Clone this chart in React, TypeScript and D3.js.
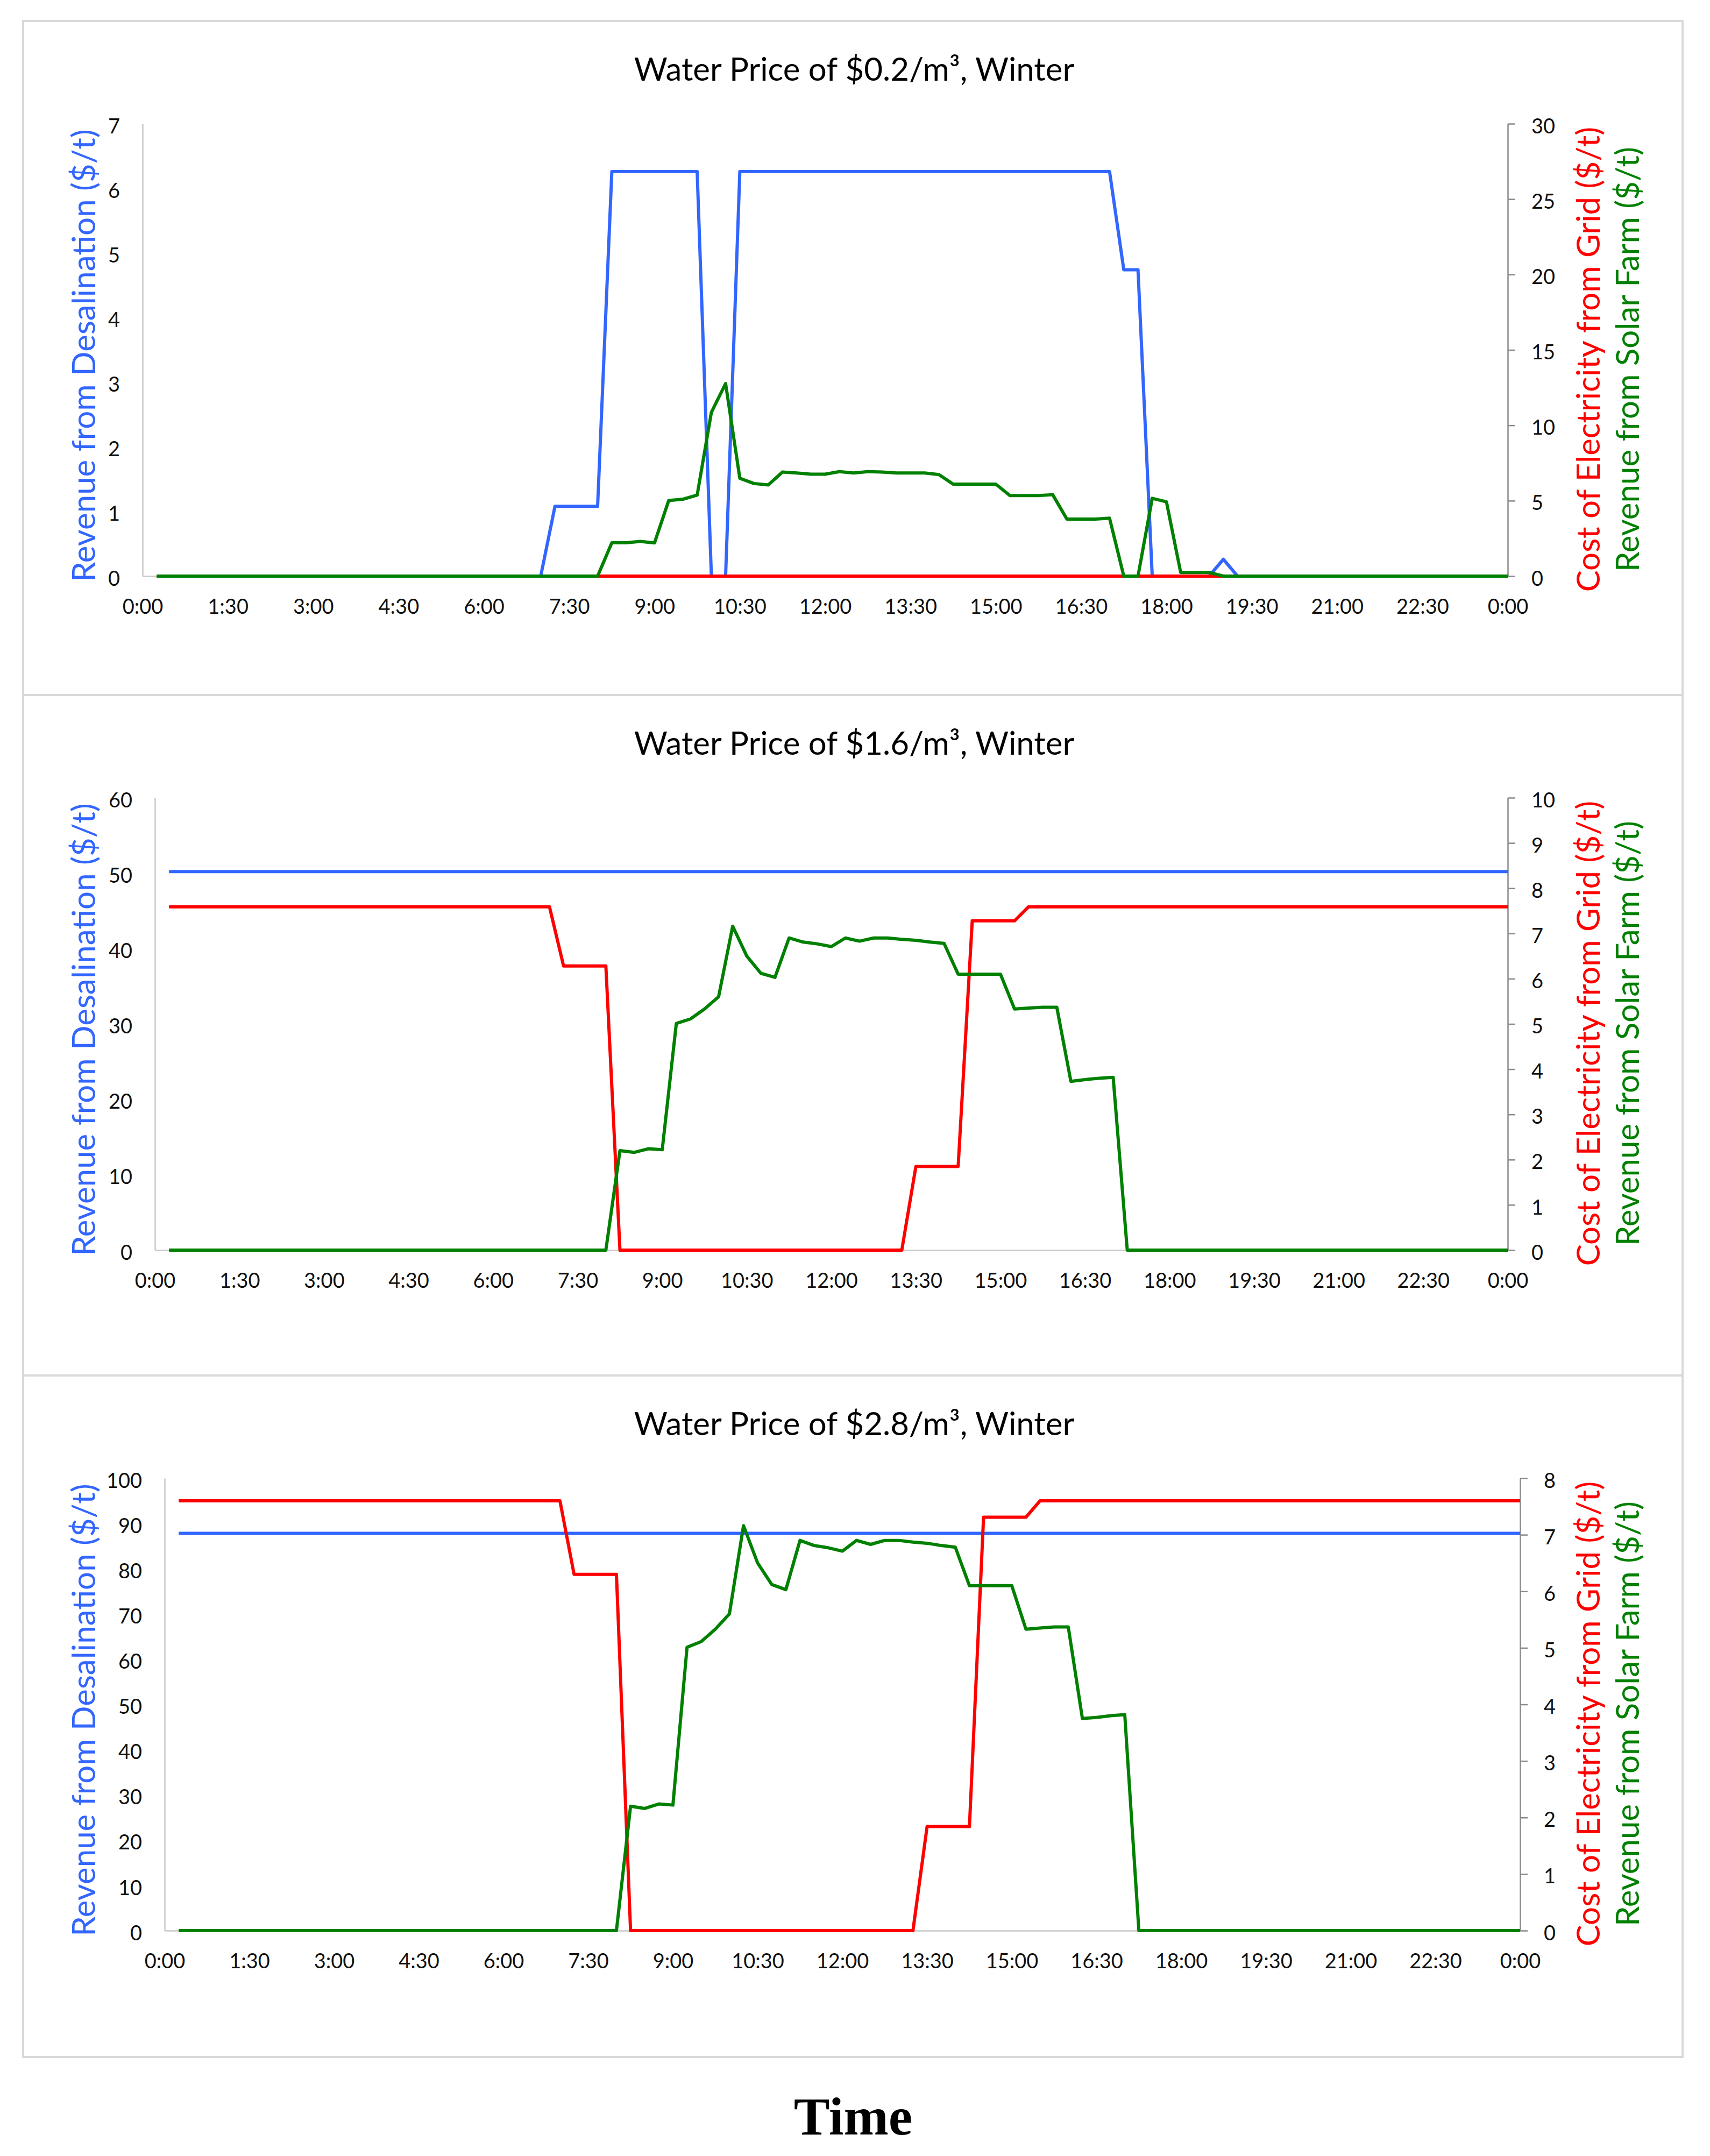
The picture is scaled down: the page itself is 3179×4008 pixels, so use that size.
import React, { useRef, useEffect } from "react";
import * as d3 from "d3";

// x axis labels, every 1:30 from 0:00 to 24:00
const timeLabels = [
  "0:00", "1:30", "3:00", "4:30", "6:00", "7:30", "9:00", "10:30", "12:00",
  "13:30", "15:00", "16:30", "18:00", "19:30", "21:00", "22:30", "0:00",
];

const titles = [
  "Water Price of $0.2/m³, Winter",
  "Water Price of $1.6/m³, Winter",
  "Water Price of $2.8/m³, Winter",
];

// all series: 15 min steps, 0:15 ... 24:00 (96 values, 12 per row = 3 h)
// $0.2/m3
const desal02 = [
  0, 0, 0, 0, 0, 0, 0, 0, 0, 0, 0, 0,
  0, 0, 0, 0, 0, 0, 0, 0, 0, 0, 0, 0,
  0, 0, 0, 0, 1.08, 1.08, 1.08, 1.08, 6.26, 6.26, 6.26, 6.26,
  6.26, 6.26, 6.26, 0, 0, 6.26, 6.26, 6.26, 6.26, 6.26, 6.26, 6.26,
  6.26, 6.26, 6.26, 6.26, 6.26, 6.26, 6.26, 6.26, 6.26, 6.26, 6.26, 6.26,
  6.26, 6.26, 6.26, 6.26, 6.26, 6.26, 6.26, 6.26, 4.74, 4.74, 0, 0,
  0, 0, 0, 0.26, 0, 0, 0, 0, 0, 0, 0, 0,
  0, 0, 0, 0, 0, 0, 0, 0, 0, 0, 0, 0,
];
const grid02 = [
  0, 0, 0, 0, 0, 0, 0, 0, 0, 0, 0, 0,
  0, 0, 0, 0, 0, 0, 0, 0, 0, 0, 0, 0,
  0, 0, 0, 0, 0, 0, 0, 0, 0, 0, 0, 0,
  0, 0, 0, 0, 0, 0, 0, 0, 0, 0, 0, 0,
  0, 0, 0, 0, 0, 0, 0, 0, 0, 0, 0, 0,
  0, 0, 0, 0, 0, 0, 0, 0, 0, 0, 0, 0,
  0, 0, 0, 0, 0, 0, 0, 0, 0, 0, 0, 0,
  0, 0, 0, 0, 0, 0, 0, 0, 0, 0, 0, 0,
];
const solar02 = [
  0, 0, 0, 0, 0, 0, 0, 0, 0, 0, 0, 0,
  0, 0, 0, 0, 0, 0, 0, 0, 0, 0, 0, 0,
  0, 0, 0, 0, 0, 0, 0, 0, 2.21, 2.21, 2.3, 2.2,
  5.01, 5.1, 5.37, 10.86, 12.77, 6.49, 6.14, 6.05, 6.9, 6.84, 6.76, 6.76,
  6.93, 6.84, 6.93, 6.9, 6.84, 6.84, 6.84, 6.73, 6.1, 6.1, 6.1, 6.1,
  5.34, 5.34, 5.34, 5.4, 3.78, 3.78, 3.78, 3.84, 0, 0, 5.16, 4.93,
  0.24, 0.24, 0.24, 0, 0, 0, 0, 0, 0, 0, 0, 0,
  0, 0, 0, 0, 0, 0, 0, 0, 0, 0, 0, 0,
];

// $1.6/m3
const desal16 = [
  50.2, 50.2, 50.2, 50.2, 50.2, 50.2, 50.2, 50.2, 50.2, 50.2, 50.2, 50.2,
  50.2, 50.2, 50.2, 50.2, 50.2, 50.2, 50.2, 50.2, 50.2, 50.2, 50.2, 50.2,
  50.2, 50.2, 50.2, 50.2, 50.2, 50.2, 50.2, 50.2, 50.2, 50.2, 50.2, 50.2,
  50.2, 50.2, 50.2, 50.2, 50.2, 50.2, 50.2, 50.2, 50.2, 50.2, 50.2, 50.2,
  50.2, 50.2, 50.2, 50.2, 50.2, 50.2, 50.2, 50.2, 50.2, 50.2, 50.2, 50.2,
  50.2, 50.2, 50.2, 50.2, 50.2, 50.2, 50.2, 50.2, 50.2, 50.2, 50.2, 50.2,
  50.2, 50.2, 50.2, 50.2, 50.2, 50.2, 50.2, 50.2, 50.2, 50.2, 50.2, 50.2,
  50.2, 50.2, 50.2, 50.2, 50.2, 50.2, 50.2, 50.2, 50.2, 50.2, 50.2, 50.2,
];
const grid16 = [
  7.59, 7.59, 7.59, 7.59, 7.59, 7.59, 7.59, 7.59, 7.59, 7.59, 7.59, 7.59,
  7.59, 7.59, 7.59, 7.59, 7.59, 7.59, 7.59, 7.59, 7.59, 7.59, 7.59, 7.59,
  7.59, 7.59, 7.59, 7.59, 6.28, 6.28, 6.28, 6.28, 0, 0, 0, 0,
  0, 0, 0, 0, 0, 0, 0, 0, 0, 0, 0, 0,
  0, 0, 0, 0, 0, 1.85, 1.85, 1.85, 1.85, 7.28, 7.28, 7.28,
  7.28, 7.59, 7.59, 7.59, 7.59, 7.59, 7.59, 7.59, 7.59, 7.59, 7.59, 7.59,
  7.59, 7.59, 7.59, 7.59, 7.59, 7.59, 7.59, 7.59, 7.59, 7.59, 7.59, 7.59,
  7.59, 7.59, 7.59, 7.59, 7.59, 7.59, 7.59, 7.59, 7.59, 7.59, 7.59, 7.59,
];
const solar16 = [
  0, 0, 0, 0, 0, 0, 0, 0, 0, 0, 0, 0,
  0, 0, 0, 0, 0, 0, 0, 0, 0, 0, 0, 0,
  0, 0, 0, 0, 0, 0, 0, 0, 2.2, 2.16, 2.24, 2.22,
  5.01, 5.11, 5.33, 5.6, 7.16, 6.5, 6.12, 6.03, 6.9, 6.81, 6.77, 6.71,
  6.9, 6.83, 6.9, 6.9, 6.87, 6.85, 6.81, 6.78, 6.1, 6.1, 6.1, 6.1,
  5.33, 5.35, 5.37, 5.37, 3.73, 3.77, 3.8, 3.82, 0, 0, 0, 0,
  0, 0, 0, 0, 0, 0, 0, 0, 0, 0, 0, 0,
  0, 0, 0, 0, 0, 0, 0, 0, 0, 0, 0, 0,
];

// $2.8/m3
const desal28 = [
  87.8, 87.8, 87.8, 87.8, 87.8, 87.8, 87.8, 87.8, 87.8, 87.8, 87.8, 87.8,
  87.8, 87.8, 87.8, 87.8, 87.8, 87.8, 87.8, 87.8, 87.8, 87.8, 87.8, 87.8,
  87.8, 87.8, 87.8, 87.8, 87.8, 87.8, 87.8, 87.8, 87.8, 87.8, 87.8, 87.8,
  87.8, 87.8, 87.8, 87.8, 87.8, 87.8, 87.8, 87.8, 87.8, 87.8, 87.8, 87.8,
  87.8, 87.8, 87.8, 87.8, 87.8, 87.8, 87.8, 87.8, 87.8, 87.8, 87.8, 87.8,
  87.8, 87.8, 87.8, 87.8, 87.8, 87.8, 87.8, 87.8, 87.8, 87.8, 87.8, 87.8,
  87.8, 87.8, 87.8, 87.8, 87.8, 87.8, 87.8, 87.8, 87.8, 87.8, 87.8, 87.8,
  87.8, 87.8, 87.8, 87.8, 87.8, 87.8, 87.8, 87.8, 87.8, 87.8, 87.8, 87.8,
];
const grid28 = [
  7.6, 7.6, 7.6, 7.6, 7.6, 7.6, 7.6, 7.6, 7.6, 7.6, 7.6, 7.6,
  7.6, 7.6, 7.6, 7.6, 7.6, 7.6, 7.6, 7.6, 7.6, 7.6, 7.6, 7.6,
  7.6, 7.6, 7.6, 7.6, 6.3, 6.3, 6.3, 6.3, 0, 0, 0, 0,
  0, 0, 0, 0, 0, 0, 0, 0, 0, 0, 0, 0,
  0, 0, 0, 0, 0, 1.84, 1.84, 1.84, 1.84, 7.31, 7.31, 7.31,
  7.31, 7.6, 7.6, 7.6, 7.6, 7.6, 7.6, 7.6, 7.6, 7.6, 7.6, 7.6,
  7.6, 7.6, 7.6, 7.6, 7.6, 7.6, 7.6, 7.6, 7.6, 7.6, 7.6, 7.6,
  7.6, 7.6, 7.6, 7.6, 7.6, 7.6, 7.6, 7.6, 7.6, 7.6, 7.6, 7.6,
];
const solar28 = [
  0, 0, 0, 0, 0, 0, 0, 0, 0, 0, 0, 0,
  0, 0, 0, 0, 0, 0, 0, 0, 0, 0, 0, 0,
  0, 0, 0, 0, 0, 0, 0, 0, 2.2, 2.16, 2.24, 2.22,
  5.01, 5.11, 5.33, 5.6, 7.16, 6.5, 6.12, 6.03, 6.9, 6.81, 6.77, 6.71,
  6.9, 6.83, 6.9, 6.9, 6.87, 6.85, 6.81, 6.78, 6.1, 6.1, 6.1, 6.1,
  5.33, 5.35, 5.37, 5.37, 3.75, 3.77, 3.8, 3.82, 0, 0, 0, 0,
  0, 0, 0, 0, 0, 0, 0, 0, 0, 0, 0, 0,
  0, 0, 0, 0, 0, 0, 0, 0, 0, 0, 0, 0,
];

const W = 3179;
const H = 4008;
const FONT = "Lato, 'Noto Sans', sans-serif";
const BLUE = "#3366FF";
const RED = "#FF0000";
const GREEN = "#008000";

interface PanelSpec {
  top: number;
  bottom: number;
  x0: number;
  x1: number;
  left: [number, number]; // max, step
  right: [number, number];
  title: string;
  desal: number[];
  grid: number[];
  solar: number[];
}

const panels: PanelSpec[] = [
  { top: 39, bottom: 1292, x0: 265, x1: 2803, left: [7, 1], right: [30, 5], title: titles[0], desal: desal02, grid: grid02, solar: solar02 },
  { top: 1292, bottom: 2557, x0: 288, x1: 2803, left: [60, 10], right: [10, 1], title: titles[1], desal: desal16, grid: grid16, solar: solar16 },
  { top: 2557, bottom: 3824, x0: 306, x1: 2826, left: [100, 10], right: [8, 1], title: titles[2], desal: desal28, grid: grid28, solar: solar28 },
];

function drawPanel(svg: d3.Selection<SVGSVGElement, unknown, null, undefined>, p: PanelSpec) {
  const plotTop = p.top + 191;
  const plotBottom = p.top + 1032;

  svg
    .append("rect")
    .attr("x", 43)
    .attr("y", p.top)
    .attr("width", 3085)
    .attr("height", p.bottom - p.top)
    .attr("fill", "none")
    .attr("stroke", "#D9D9D9")
    .attr("stroke-width", 4);

  const x = d3.scaleLinear().domain([0, 24]).range([p.x0, p.x1]);
  const yL = d3.scaleLinear().domain([0, p.left[0]]).range([plotBottom, plotTop]);
  const yR = d3.scaleLinear().domain([0, p.right[0]]).range([plotBottom, plotTop]);

  // x axis
  const gx = svg
    .append("g")
    .attr("transform", `translate(0,${plotBottom})`)
    .call(
      d3
        .axisBottom(x)
        .tickValues(timeLabels.map((_, i) => i * 1.5))
        .tickFormat((_, i) => timeLabels[i])
        .tickSize(0)
        .tickPadding(43)
    );
  gx.select(".domain").attr("stroke", "#C8C8C8").attr("stroke-width", 2.5);
  gx.selectAll("text").attr("font-family", FONT).attr("font-size", 38).attr("fill", "#111");

  // left axis
  const gl = svg
    .append("g")
    .attr("transform", `translate(${p.x0},0)`)
    .call(
      d3
        .axisLeft(yL)
        .tickValues(d3.range(0, p.left[0] + p.left[1] / 2, p.left[1]))
        .tickFormat(d3.format("d"))
        .tickSize(0)
        .tickSizeOuter(0)
        .tickPadding(42)
    );
  gl.select(".domain").attr("stroke", "#C8C8C8").attr("stroke-width", 2.5);
  gl.selectAll("text").attr("font-family", FONT).attr("font-size", 38).attr("fill", "#111").attr("dy", "0.45em");

  // right axis
  const gr = svg
    .append("g")
    .attr("transform", `translate(${p.x1},0)`)
    .call(
      d3
        .axisRight(yR)
        .tickValues(d3.range(0, p.right[0] + p.right[1] / 2, p.right[1]))
        .tickFormat(d3.format("d"))
        .tickSize(14)
        .tickSizeOuter(0)
        .tickPadding(30)
    );
  gr.select(".domain").attr("stroke", "#8A8A8A").attr("stroke-width", 2.5);
  gr.selectAll(".tick line").attr("stroke", "#8A8A8A").attr("stroke-width", 2.5);
  gr.selectAll("text").attr("font-family", FONT).attr("font-size", 38).attr("fill", "#111").attr("dy", "0.45em");

  // series
  const hour = (i: number) => (i + 1) / 4;
  const lineL = d3.line<number>().x((_, i) => x(hour(i))).y((d) => yL(d));
  const lineR = d3.line<number>().x((_, i) => x(hour(i))).y((d) => yR(d));
  const series: [number[], typeof lineL, string][] = [
    [p.desal, lineL, BLUE],
    [p.grid, lineR, RED],
    [p.solar, lineR, GREEN],
  ];
  series.forEach(([data, gen, color]) => {
    svg
      .append("path")
      .datum(data)
      .attr("d", gen)
      .attr("fill", "none")
      .attr("stroke", color)
      .attr("stroke-width", 6)
      .attr("stroke-linejoin", "round");
  });

  // title
  svg
    .append("text")
    .attr("x", 1588)
    .attr("y", p.top + 111)
    .attr("text-anchor", "middle")
    .attr("font-family", FONT)
    .attr("font-size", 60)
    .attr("fill", "#000")
    .text(p.title);

  // axis titles
  const axisTitle = (bx: number, cy: number, color: string, label: string) =>
    svg
      .append("text")
      .attr("transform", `translate(${bx},${cy}) rotate(-90)`)
      .attr("text-anchor", "middle")
      .attr("font-family", FONT)
      .attr("font-size", 60)
      .attr("fill", color)
      .text(label);
  axisTitle(177, p.top + 622, BLUE, "Revenue from Desalination ($/t)");
  axisTitle(2974, p.top + 629, RED, "Cost of Electricity from Grid ($/t)");
  axisTitle(3047, p.top + 629, GREEN, "Revenue from Solar Farm ($/t)");
}

const App: React.FC = () => {
  const svgRef = useRef<SVGSVGElement>(null);

  useEffect(() => {
    if (!svgRef.current) return;
    const svg = d3.select(svgRef.current);
    svg.selectAll("*").remove();

    panels.forEach((p) => drawPanel(svg, p));

    svg
      .append("text")
      .attr("x", 1586)
      .attr("y", 3968)
      .attr("text-anchor", "middle")
      .attr("font-family", "'Liberation Serif', 'Times New Roman', serif")
      .attr("font-weight", "bold")
      .attr("font-size", 100)
      .attr("fill", "#000")
      .text("Time");
  }, []);

  return (
    <svg
      ref={svgRef}
      width={W}
      height={H}
      style={{ position: "absolute", left: 0, top: 0, background: "#fff" }}
    ></svg>
  );
};

export default App;
